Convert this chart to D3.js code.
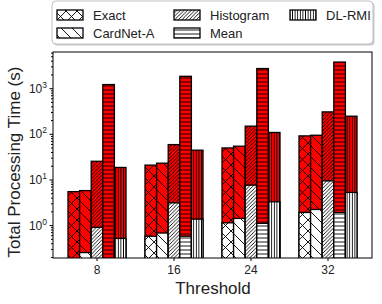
<!DOCTYPE html>
<html>
<head>
<meta charset="utf-8">
<script src="https://cdn.jsdelivr.net/npm/d3@7"></script>
<style>
  body { margin: 0; background: #fff; }
  text { font-family: "Liberation Sans", Arial, sans-serif; fill: #222; }
</style>
</head>
<body>
<svg id="chart" width="382" height="304"></svg>
<script>
const thresholds = ["8", "16", "24", "32"];
const series = ["Exact", "CardNet-A", "Histogram", "Mean", "DL-RMI"];

// total time per series (top of red part)
const totalExact = [5.4, 20.6, 49, 90];
const totalCardNet = [5.7, 22.7, 53.5, 93];
const totalHistogram = [25, 58, 147, 302];
const totalMean = [1200, 1820, 2690, 3730];
const totalDLRMI = [18.3, 43.8, 107, 243];

// lower (white) part per series
const baseExact = [0.15, 0.57, 1.12, 1.89];
const baseCardNet = [0.25, 0.67, 1.40, 2.2];
const baseHistogram = [0.89, 3.07, 7.5, 9.3];
const baseMean = [0.15, 0.57, 1.09, 1.89];
const baseDLRMI = [0.51, 1.35, 3.24, 5.2];

const yTickValues = [1, 10, 100, 1000];

const totals = [totalExact, totalCardNet, totalHistogram, totalMean, totalDLRMI];
const bases = [baseExact, baseCardNet, baseHistogram, baseMean, baseDLRMI];

var plotLeft = 53, plotRight = 372, plotTop = 52, plotBottom = 258;

var svg = d3.select("#chart");

// hatch patterns
var defs = svg.append("defs");
var hatches = {
  "Exact": { p: 11, d: function(p) { return "M0,0L" + p + "," + p + "M0," + p + "L" + p + ",0"; } },
  "CardNet-A": { p: 11, d: function(p) { return "M0,0L" + p + "," + p + "M" + (-p/4) + "," + (3*p/4) + "L" + (p/4) + "," + (5*p/4) + "M" + (3*p/4) + "," + (-p/4) + "L" + (5*p/4) + "," + (p/4); } },
  "Histogram": { p: 3.6, d: function(p) { return "M0," + p + "L" + p + ",0M" + (-p/4) + "," + (p/4) + "L" + (p/4) + "," + (-p/4) + "M" + (3*p/4) + "," + (5*p/4) + "L" + (5*p/4) + "," + (3*p/4); } },
  "Mean": { p: 4, d: function(p) { return "M0," + (p/2) + "L" + p + "," + (p/2); } },
  "DL-RMI": { p: 2.6, d: function(p) { return "M" + (p/2) + ",0L" + (p/2) + "," + p; } }
};

function makePattern(id, name, bg) {
  var h = hatches[name];
  var pat = defs.append("pattern")
    .attr("id", id)
    .attr("patternUnits", "userSpaceOnUse")
    .attr("width", h.p)
    .attr("height", h.p);
  pat.append("rect").attr("width", h.p).attr("height", h.p).attr("fill", bg);
  pat.append("path").attr("d", h.d(h.p))
    .attr("stroke", "#000").attr("stroke-width", 0.9).attr("fill", "none");
}

series.forEach(function(s, i) {
  makePattern("w" + i, s, "#fff");
  makePattern("r" + i, s, "#ff0000");
});

defs.append("clipPath").attr("id", "plotclip")
  .append("rect").attr("x", plotLeft).attr("y", plotTop)
  .attr("width", plotRight - plotLeft).attr("height", plotBottom - plotTop);

// scales
var x0 = d3.scaleBand()
  .domain(thresholds)
  .range([plotLeft + 5.5, plotRight - 5.5]);

var x1 = d3.scaleBand()
  .domain(series)
  .range([(x0.bandwidth() - 58) / 2, (x0.bandwidth() + 58) / 2]);

var y = d3.scaleLog()
  .domain([0.19, 6200])
  .range([plotBottom, plotTop]);

// bars
var plot = svg.append("g").attr("clip-path", "url(#plotclip)");

thresholds.forEach(function(t, g) {
  series.forEach(function(s, i) {
    var bx = x0(t) + x1(s);
    var w = x1.bandwidth();
    var yt = y(totals[i][g]);
    var yb = y(bases[i][g]);
    plot.append("rect")
      .attr("x", bx).attr("y", yt)
      .attr("width", w).attr("height", plotBottom + 5 - yt)
      .attr("fill", "url(#r" + i + ")")
      .attr("stroke", "#000").attr("stroke-width", 1.3);
    plot.append("rect")
      .attr("x", bx).attr("y", yb)
      .attr("width", w).attr("height", Math.max(0, plotBottom + 5 - yb))
      .attr("fill", "url(#w" + i + ")")
      .attr("stroke", "#000").attr("stroke-width", 1.3);
  });
});

// frame
svg.append("rect")
  .attr("x", plotLeft).attr("y", plotTop)
  .attr("width", plotRight - plotLeft).attr("height", plotBottom - plotTop)
  .attr("fill", "none").attr("stroke", "#000").attr("stroke-width", 1);

// y axis
var minor = [];
[0.1, 1, 10, 100, 1000].forEach(function(d) {
  for (var k = 2; k <= 9; k++) {
    var v = d * k;
    if (v >= 0.19 && v <= 6200) minor.push(v);
  }
});

var yAxis = svg.append("g")
  .attr("transform", "translate(" + plotLeft + ",0)")
  .call(d3.axisLeft(y).tickValues(yTickValues).tickSize(3.5).tickFormat(""));
yAxis.select(".domain").remove();

var yMinor = svg.append("g")
  .attr("transform", "translate(" + plotLeft + ",0)")
  .call(d3.axisLeft(y).tickValues(minor).tickSize(2).tickFormat(""));
yMinor.select(".domain").remove();

yTickValues.forEach(function(v) {
  var tx = svg.append("text")
    .attr("x", 47)
    .attr("y", y(v) + 4.5)
    .attr("text-anchor", "end")
    .attr("font-size", 12);
  tx.append("tspan").text("10");
  tx.append("tspan").attr("dy", -5).attr("font-size", 8.5).text(Math.round(Math.log10(v)));
});

// x axis
var xAxis = svg.append("g")
  .attr("transform", "translate(0," + plotBottom + ")")
  .call(d3.axisBottom(x0).tickSize(3).tickPadding(4));
xAxis.select(".domain").remove();
xAxis.selectAll("text")
  .attr("font-size", 12)
  .attr("font-family", "Liberation Sans, Arial, sans-serif")
  .attr("fill", "#222");

// axis titles
svg.append("text")
  .attr("x", (plotLeft + plotRight) / 2 + 0.5)
  .attr("y", 294)
  .attr("text-anchor", "middle")
  .attr("font-size", 17)
  .text("Threshold");

svg.append("text")
  .attr("transform", "translate(19.5,162) rotate(-90)")
  .attr("text-anchor", "middle")
  .attr("font-size", 17)
  .text("Total Processing Time (s)");

// legend
var legend = svg.append("g");
legend.append("rect")
  .attr("x", 53.5).attr("y", 2.5)
  .attr("width", 321).attr("height", 43)
  .attr("rx", 4).attr("fill", "#c8c8c8");
legend.append("rect")
  .attr("x", 52).attr("y", 1)
  .attr("width", 321).attr("height", 43)
  .attr("rx", 4).attr("fill", "#fff")
  .attr("stroke", "#c0c0c0").attr("stroke-width", 1);

var legendCols = [57, 174, 290];
series.forEach(function(s, i) {
  var col = Math.floor(i / 2), row = i % 2;
  var lx = legendCols[col], ly = 10 + row * 18;
  legend.append("rect")
    .attr("x", lx).attr("y", ly)
    .attr("width", 26).attr("height", 10)
    .attr("fill", "url(#w" + i + ")")
    .attr("stroke", "#000").attr("stroke-width", 1.3);
  legend.append("text")
    .attr("x", lx + 36).attr("y", ly + 10)
    .attr("font-size", 13)
    .text(s);
});
</script>
</body>
</html>
